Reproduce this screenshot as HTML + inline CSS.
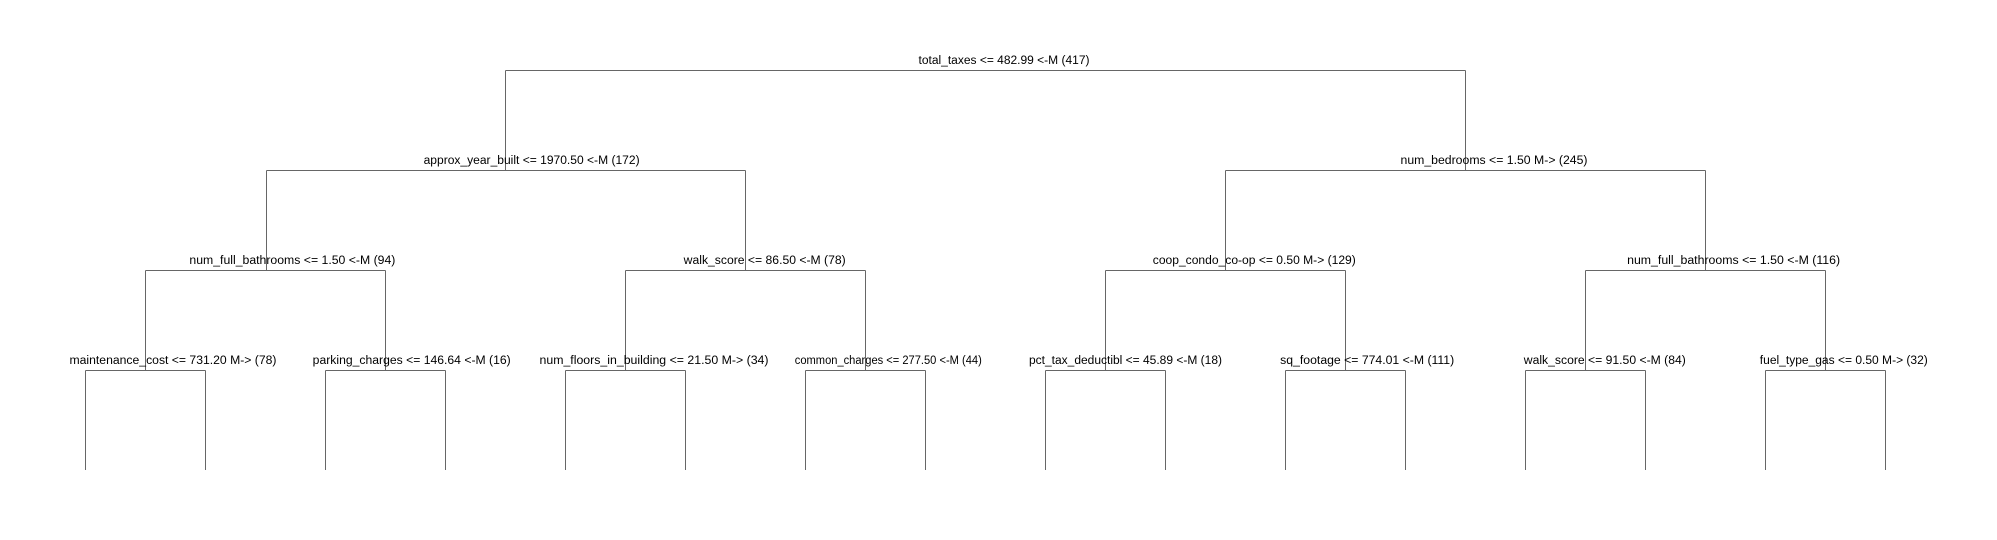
<!DOCTYPE html>
<html><head><meta charset="utf-8"><style>
html,body{margin:0;padding:0;background:#fff;}
svg{display:block;}
text{font-family:"Liberation Sans",sans-serif;font-size:11.5px;fill:#000;text-anchor:middle;}
line{stroke:#666;stroke-width:1;}
</style></head><body>
<svg width="1997" height="540" xmlns="http://www.w3.org/2000/svg">
<g>
<!-- root -->
<line x1="505.5" y1="70.5" x2="1465.5" y2="70.5"/>
<line x1="505.5" y1="70.5" x2="505.5" y2="170.5"/>
<line x1="1465.5" y1="70.5" x2="1465.5" y2="170.5"/>
<!-- level 2 -->
<line x1="266.5" y1="170.5" x2="745.5" y2="170.5"/>
<line x1="266.5" y1="170.5" x2="266.5" y2="270.5"/>
<line x1="745.5" y1="170.5" x2="745.5" y2="270.5"/>
<line x1="1225.5" y1="170.5" x2="1705.5" y2="170.5"/>
<line x1="1225.5" y1="170.5" x2="1225.5" y2="270.5"/>
<line x1="1705.5" y1="170.5" x2="1705.5" y2="270.5"/>
<!-- level 3 -->
<line x1="145.5" y1="270.5" x2="385.5" y2="270.5"/>
<line x1="145.5" y1="270.5" x2="145.5" y2="370.5"/>
<line x1="385.5" y1="270.5" x2="385.5" y2="370.5"/>
<line x1="625.5" y1="270.5" x2="865.5" y2="270.5"/>
<line x1="625.5" y1="270.5" x2="625.5" y2="370.5"/>
<line x1="865.5" y1="270.5" x2="865.5" y2="370.5"/>
<line x1="1105.5" y1="270.5" x2="1345.5" y2="270.5"/>
<line x1="1105.5" y1="270.5" x2="1105.5" y2="370.5"/>
<line x1="1345.5" y1="270.5" x2="1345.5" y2="370.5"/>
<line x1="1585.5" y1="270.5" x2="1825.5" y2="270.5"/>
<line x1="1585.5" y1="270.5" x2="1585.5" y2="370.5"/>
<line x1="1825.5" y1="270.5" x2="1825.5" y2="370.5"/>
<!-- leaves -->
<line x1="85.5" y1="370.5" x2="205.5" y2="370.5"/><line x1="85.5" y1="370.5" x2="85.5" y2="470"/><line x1="205.5" y1="370.5" x2="205.5" y2="470"/>
<line x1="325.5" y1="370.5" x2="445.5" y2="370.5"/><line x1="325.5" y1="370.5" x2="325.5" y2="470"/><line x1="445.5" y1="370.5" x2="445.5" y2="470"/>
<line x1="565.5" y1="370.5" x2="685.5" y2="370.5"/><line x1="565.5" y1="370.5" x2="565.5" y2="470"/><line x1="685.5" y1="370.5" x2="685.5" y2="470"/>
<line x1="805.5" y1="370.5" x2="925.5" y2="370.5"/><line x1="805.5" y1="370.5" x2="805.5" y2="470"/><line x1="925.5" y1="370.5" x2="925.5" y2="470"/>
<line x1="1045.5" y1="370.5" x2="1165.5" y2="370.5"/><line x1="1045.5" y1="370.5" x2="1045.5" y2="470"/><line x1="1165.5" y1="370.5" x2="1165.5" y2="470"/>
<line x1="1285.5" y1="370.5" x2="1405.5" y2="370.5"/><line x1="1285.5" y1="370.5" x2="1285.5" y2="470"/><line x1="1405.5" y1="370.5" x2="1405.5" y2="470"/>
<line x1="1525.5" y1="370.5" x2="1645.5" y2="370.5"/><line x1="1525.5" y1="370.5" x2="1525.5" y2="470"/><line x1="1645.5" y1="370.5" x2="1645.5" y2="470"/>
<line x1="1765.5" y1="370.5" x2="1885.5" y2="370.5"/><line x1="1765.5" y1="370.5" x2="1765.5" y2="470"/><line x1="1885.5" y1="370.5" x2="1885.5" y2="470"/>
</g>
<g lengthAdjust="spacingAndGlyphs">
<text x="1004" y="64" textLength="171" lengthAdjust="spacingAndGlyphs">total_taxes &lt;= 482.99 &lt;-M (417)</text>
<text x="531.6" y="164" textLength="216" lengthAdjust="spacingAndGlyphs">approx_year_built &lt;= 1970.50 &lt;-M (172)</text>
<text x="1494" y="164" textLength="187" lengthAdjust="spacingAndGlyphs">num_bedrooms &lt;= 1.50 M-&gt; (245)</text>
<text x="292.4" y="264" textLength="206" lengthAdjust="spacingAndGlyphs">num_full_bathrooms &lt;= 1.50 &lt;-M (94)</text>
<text x="764.7" y="264" textLength="162" lengthAdjust="spacingAndGlyphs">walk_score &lt;= 86.50 &lt;-M (78)</text>
<text x="1254.3" y="264" textLength="203" lengthAdjust="spacingAndGlyphs">coop_condo_co-op &lt;= 0.50 M-&gt; (129)</text>
<text x="1733.6" y="264" textLength="213" lengthAdjust="spacingAndGlyphs">num_full_bathrooms &lt;= 1.50 &lt;-M (116)</text>
<text x="173" y="364" textLength="207" lengthAdjust="spacingAndGlyphs">maintenance_cost &lt;= 731.20 M-&gt; (78)</text>
<text x="411.7" y="364" textLength="198" lengthAdjust="spacingAndGlyphs">parking_charges &lt;= 146.64 &lt;-M (16)</text>
<text x="654" y="364" textLength="229" lengthAdjust="spacingAndGlyphs">num_floors_in_building &lt;= 21.50 M-&gt; (34)</text>
<text x="888.3" y="364" textLength="187" lengthAdjust="spacingAndGlyphs">common_charges &lt;= 277.50 &lt;-M (44)</text>
<text x="1125.5" y="364" textLength="193" lengthAdjust="spacingAndGlyphs">pct_tax_deductibl &lt;= 45.89 &lt;-M (18)</text>
<text x="1367.2" y="364" textLength="174" lengthAdjust="spacingAndGlyphs">sq_footage &lt;= 774.01 &lt;-M (111)</text>
<text x="1604.8" y="364" textLength="162" lengthAdjust="spacingAndGlyphs">walk_score &lt;= 91.50 &lt;-M (84)</text>
<text x="1843.8" y="364" textLength="168" lengthAdjust="spacingAndGlyphs">fuel_type_gas &lt;= 0.50 M-&gt; (32)</text>
</g>
</svg>
</body></html>
